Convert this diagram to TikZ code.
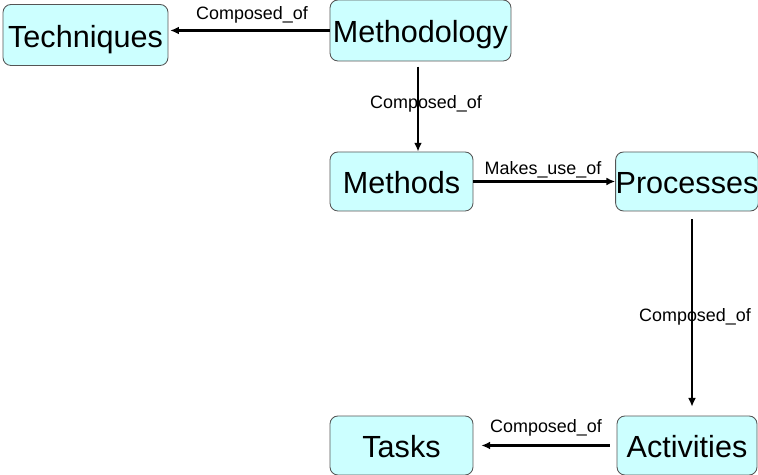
\documentclass[tikz,border=0pt]{standalone}
\usepackage{fontspec}
\setmainfont{Liberation Sans}
\usetikzlibrary{arrows.meta}
\definecolor{boxfill}{HTML}{CCFFFF}
\definecolor{boxline}{HTML}{555555}
\begin{document}
\begin{tikzpicture}[x=0.02cm,y=-0.02cm,
  concept/.style={draw=boxline,line width=0.5pt,fill=boxfill,rounded corners=4.5pt,
    inner sep=0pt,text height=13.8pt,text depth=0pt,font=\fontsize{17.4}{20}\selectfont},
  rel/.style={line width=1.7pt,-{Latex[length=5pt,width=4.5pt]}},
  lbl/.style={font=\fontsize{10.2}{12}\selectfont,inner sep=0pt}]
 \useasboundingbox (0,0) rectangle (758,475);
 \node (techniques) at (85.5,35) [concept,minimum width=3.3cm,minimum height=1.22cm] {Techniques};
 \node (methodology) at (420.5,30.5) [concept,minimum width=3.62cm,minimum height=1.22cm] {Methodology};
 \node (methods) at (401.5,181.5) [concept,minimum width=2.86cm,minimum height=1.18cm] {Methods};
 \node (processes) at (687,181.5) [concept,minimum width=2.8cm,minimum height=1.18cm] {Processes};
 \node (activities) at (687,445.5) [concept,minimum width=2.8cm,minimum height=1.18cm] {Activities};
 \node (tasks) at (401.5,445.5) [concept,minimum width=2.86cm,minimum height=1.18cm] {Tasks};

 \draw[rel,shorten >=1pt] (methodology.west) -- (methodology.west -| techniques.east);
 \draw[rel,shorten <=3pt] ([xshift=-0.05cm]methodology.south) -- ([xshift=-0.05cm]methodology.south |- methods.north);
 \draw[rel] (methods) -- (processes);
 \draw[rel,shorten <=4.5pt,shorten >=5pt] ([xshift=0.1cm]processes.south) -- ([xshift=0.1cm]processes.south |- activities.north);
 \draw[rel,shorten <=4pt,shorten >=4.5pt] (activities.west) -- (tasks.east);

 \node (l1) at (252,15) [lbl] {Composed\_of};
 \node (l2) at (426,104) [lbl] {Composed\_of};
 \node (l3) at (543,170) [lbl] {Makes\_use\_of};
 \node (l4) at (695,317) [lbl] {Composed\_of};
 \node (l5) at (546,428) [lbl] {Composed\_of};
\end{tikzpicture}
\end{document}
